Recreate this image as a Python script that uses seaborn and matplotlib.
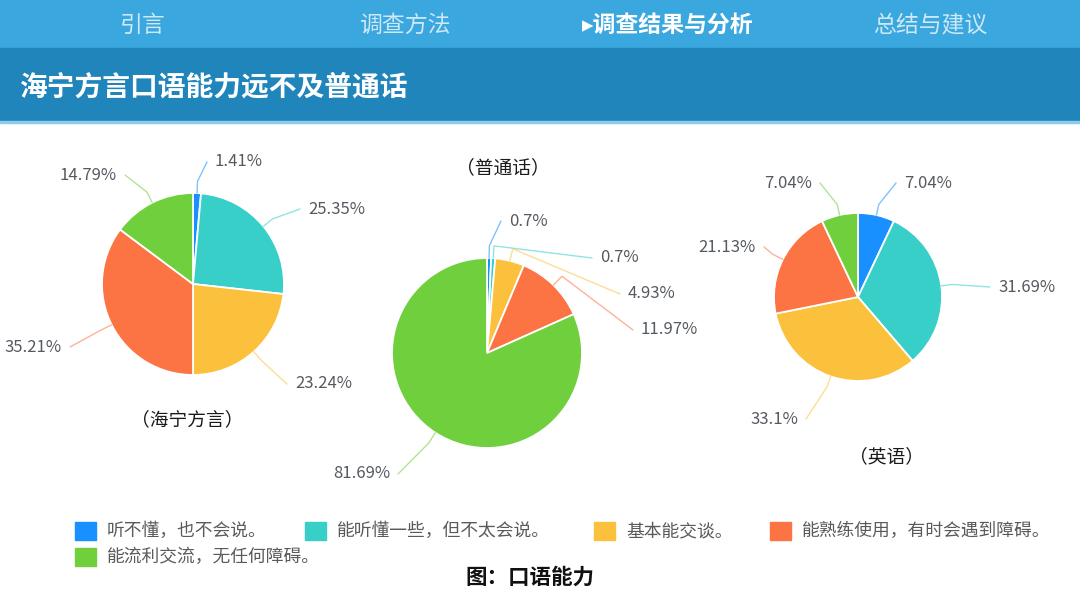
import numpy as np
import matplotlib.pyplot as plt
import seaborn as sns
from matplotlib.patches import Rectangle

categories = ['听不懂，也不会说。', '能听懂一些，但不太会说。', '基本能交谈。',
              '能熟练使用，有时会遇到障碍。', '能流利交流，无任何障碍。']
haining = [1.41, 25.35, 23.24, 35.21, 14.79]
putonghua = [0.7, 0.7, 4.93, 11.97, 81.69]
english = [7.04, 31.69, 33.1, 21.13, 7.04]
colors = ['#1890FF', '#38CFC9', '#FBC13C', '#FC7443', '#6FCF3D']

nav_items = ['引言', '调查方法', '▸调查结果与分析', '总结与建议']
page_title = '海宁方言口语能力远不及普通话'
caption = '图：口语能力'

sns.set_theme(style='white')
plt.rcParams['font.family'] = ['Noto Sans CJK SC', 'DejaVu Sans']

W, H = 1080, 608
fig = plt.figure(figsize=(10.8, 6.08), dpi=100)
ax = fig.add_axes([0, 0, 1, 1])

def Y(y):
    return H - y

# header bars
ax.add_patch(Rectangle((0, Y(48)), W, 48, color='#3AA7DE', zorder=0))
ax.add_patch(Rectangle((0, Y(121)), W, 73, color='#1F85BB', zorder=0))
ax.add_patch(Rectangle((0, Y(123)), W, 2, color='#8CCBEA', zorder=0))
nav_x = [143, 405, 668, 930]
for i, (t, x) in enumerate(zip(nav_items, nav_x)):
    active = i == 2
    ax.text(x, Y(25), t, ha='center', va='center', fontsize=16.5,
            color='white' if active else '#CDE8F6',
            fontweight='bold' if active else 'normal')
ax.text(19, Y(88), page_title, ha='left', va='center', fontsize=20,
        color='white', fontweight='bold')

# pies: (values, center, radius, label layout, subtitle)
pies = [
    (haining, (193, 284), 91,
     [(215, 162, 'left'), (308, 209, 'left'), (295, 384, 'left'),
      (62, 347, 'right'), (117, 175, 'right')],
     ('（海宁方言）', 187, 420)),
    (putonghua, (487, 353), 95,
     [(509, 221, 'left'), (600, 258, 'left'), (628, 294, 'left'),
      (641, 330, 'left'), (390, 474, 'right')],
     ('（普通话）', 503, 168)),
    (english, (858, 297), 84,
     [(904, 183, 'left'), (998, 287, 'left'), (798, 419, 'right'),
      (756, 247, 'right'), (812, 183, 'right')],
     ('（英语）', 886, 457)),
]

for vals, (cx, cy), r, labs, (sub, sx, sy) in pies:
    ax.pie(vals, colors=colors, startangle=90, counterclock=False,
           center=(cx, Y(cy)), radius=r,
           wedgeprops=dict(edgecolor='white', linewidth=1.3))
    cum = np.cumsum([0] + vals[:-1])
    for v, c0, col, (lx, ly, ha) in zip(vals, cum, colors, labs):
        th = np.deg2rad(90 - 3.6 * (c0 + v / 2))
        px, py = cx + r * np.cos(th), Y(cy) + r * np.sin(th)
        ex, ey = cx + r * 1.13 * np.cos(th), Y(cy) + r * 1.13 * np.sin(th)
        endx = lx - 8 if ha == 'left' else lx + 8
        ax.plot([px, ex, endx], [py, ey, Y(ly)], color=col, alpha=0.55,
                lw=1, solid_joinstyle='round')
        ax.text(lx, Y(ly), f'{v:g}%', ha=ha, va='center', fontsize=12,
                color='#555A60')
    ax.text(sx, Y(sy), sub, ha='center', va='center', fontsize=13.5,
            color='#1a1a1a')

# legend (flow layout)
leg_pos = [(75, 531), (305, 531), (594, 531), (770, 531), (75, 557)]
for name, col, (lx, ly) in zip(categories, colors, leg_pos):
    ax.add_patch(Rectangle((lx, Y(ly) - 9), 21, 18, color=col))
    ax.text(lx + 32, Y(ly), name, ha='left', va='center', fontsize=12.8,
            color='#5A5A5A')

ax.text(530, Y(577), caption, ha='center', va='center', fontsize=15.5,
        color='#111111', fontweight='bold')

ax.set_xlim(0, W)
ax.set_ylim(0, H)
ax.set_aspect('auto')
ax.axis('off')
fig.savefig('out.png', dpi=100, facecolor='white')
